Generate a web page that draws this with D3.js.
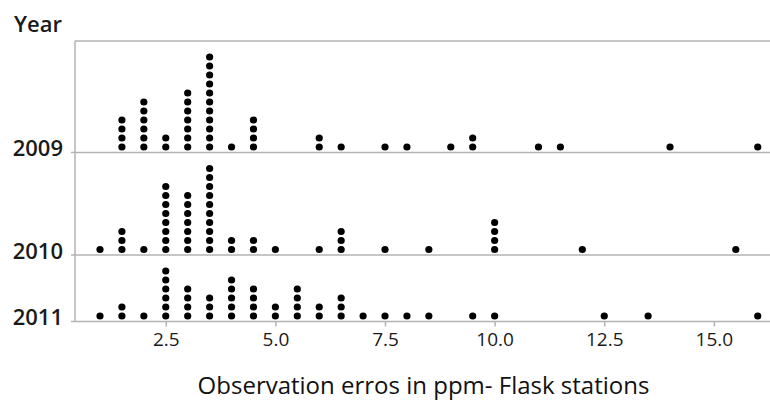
<!DOCTYPE html>
<html>
<head>
<meta charset="utf-8">
<script src="https://cdn.jsdelivr.net/npm/d3@7"></script>
<style>
  html, body { margin: 0; padding: 0; background: #fff; }
  svg { display: block; font-family: "Open Sans", "Noto Sans", sans-serif; }
</style>
</head>
<body>
<svg id="chart" width="770" height="400"></svg>
<script>
// ---- Data ----
const years = ["2009", "2010", "2011"];
const values2009 = [1.5, 2, 2.5, 3, 3.5, 4, 4.5, 6, 6.5, 7.5, 8, 9, 9.5, 11, 11.5, 14, 16];
const counts2009 = [4, 6, 2, 7, 11, 1, 4, 2, 1, 1, 1, 1, 2, 1, 1, 1, 1];
const values2010 = [1, 1.5, 2, 2.5, 3, 3.5, 4, 4.5, 5, 6, 6.5, 7.5, 8.5, 10, 12, 15.5];
const counts2010 = [1, 3, 1, 8, 7, 10, 2, 2, 1, 1, 3, 1, 1, 4, 1, 1];
const values2011 = [1, 1.5, 2, 2.5, 3, 3.5, 4, 4.5, 5, 5.5, 6, 6.5, 7, 7.5, 8, 8.5, 9.5, 10, 12.5, 13.5, 16];
const counts2011 = [1, 2, 1, 6, 4, 3, 5, 4, 2, 4, 2, 3, 1, 1, 1, 1, 1, 1, 1, 1, 1];
const xTicks = [2.5, 5.0, 7.5, 10.0, 12.5, 15.0];
const xTitle = "Observation erros in ppm- Flask stations";
const yTitle = "Year";

const seriesValues = [values2009, values2010, values2011];
const seriesCounts = [counts2009, counts2010, counts2011];

(function () {
// ---- Layout ----
const svg = d3.select("#chart");
const mLeft = 75, mRight = 770, mTop = 41;
const dotStep = 9, dotR = 3.6, basePad = 5.5, panelPad = 12.5;
const gridColor = "#b3b3b3";

const x = d3.scaleLinear().domain([0.43, 16.28]).range([mLeft, mRight]);

// panel heights from the tallest stack in each year
const panels = [];
let yCursor = mTop;
years.forEach((yr, i) => {
  const maxC = d3.max(seriesCounts[i]);
  const h = maxC * dotStep + panelPad;
  panels.push({ year: yr, y0: yCursor, y1: yCursor + h, i });
  yCursor += h;
});
const mBottom = yCursor;

// frame lines
svg.append("line").attr("x1", mLeft).attr("x2", mRight).attr("y1", mTop).attr("y2", mTop)
  .attr("stroke", gridColor).attr("stroke-width", 1.5);
svg.append("line").attr("x1", mLeft).attr("x2", mLeft).attr("y1", mTop).attr("y2", mBottom)
  .attr("stroke", gridColor).attr("stroke-width", 1.5);

panels.forEach(p => {
  svg.append("line").attr("x1", mLeft - 4).attr("x2", mRight).attr("y1", p.y1).attr("y2", p.y1)
    .attr("stroke", gridColor).attr("stroke-width", 1.5);
  svg.append("text").attr("x", 63).attr("y", p.y1 - basePad + 1.5).attr("dy", "0.36em")
    .attr("text-anchor", "end").attr("font-size", 22).attr("font-weight", 600)
    .attr("fill", "#1a1a1a").text(p.year);

  const pts = [];
  seriesValues[p.i].forEach((v, k) => {
    for (let j = 0; j < seriesCounts[p.i][k]; j++) pts.push({ v, j });
  });
  svg.append("g").selectAll("circle").data(pts).join("circle")
    .attr("cx", d => x(d.v))
    .attr("cy", d => p.y1 - basePad - d.j * dotStep)
    .attr("r", dotR)
    .attr("fill", "#000");
});

// x axis
const axis = d3.axisBottom(x).tickValues(xTicks).tickFormat(d3.format(".1f"))
  .tickSize(5).tickSizeOuter(0);
const gAxis = svg.append("g").attr("transform", `translate(0,${mBottom})`).call(axis);
gAxis.select(".domain").remove();
gAxis.selectAll(".tick line").attr("stroke", gridColor).attr("stroke-width", 1.5);
gAxis.selectAll(".tick text").attr("font-size", 19).attr("fill", "#1a1a1a")
  .attr("font-family", "'Open Sans', sans-serif").attr("y", 11);

// titles
svg.append("text").attr("x", 14).attr("y", 32).attr("font-size", 22).attr("font-weight", 600)
  .attr("fill", "#1a1a1a").text(yTitle);
svg.append("text").attr("x", (197 + 650) / 2).attr("y", 394).attr("text-anchor", "middle")
  .attr("font-size", 24).attr("fill", "#111").text(xTitle);
})();
</script>
</body>
</html>
